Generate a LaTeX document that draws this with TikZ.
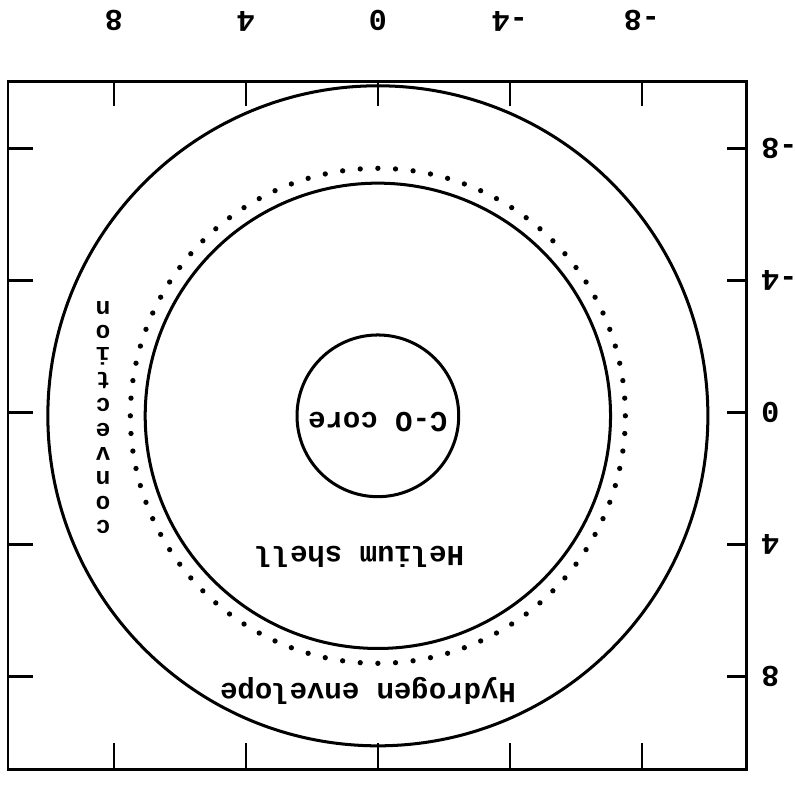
\documentclass[tikz,border=0pt]{standalone}
\usepackage{fontspec}
\setmonofont{Liberation Mono}
\usepackage{tikz}

\begin{document}
\begin{tikzpicture}[x=0.5cm, y=0.5cm, rotate=180, transform shape,
    ring/.style={line width=1.3pt},
    frame/.style={line width=1.2pt},
    axtick/.style={line width=1.1pt},
    lbl/.style={font=\ttfamily\bfseries\fontsize{12.5}{14}\selectfont, inner sep=0pt},
    num/.style={font=\ttfamily\bfseries\fontsize{13}{15}\selectfont, inner sep=0pt}]

\useasboundingbox (-12.64,-12.5) rectangle (11.45,11.4);

% frame with ticks
\draw [frame] (-11.18,-10.03) rectangle (11.21,10.82);
\foreach \v in {-8,-4,0,4,8} {
  \draw [axtick] (\v,-10.03) -- ++(0,0.75);
  \draw [axtick] (\v,10.82) -- ++(0,-0.8);
  \draw [axtick] (-11.18,\v) -- ++(0.6,0);
  \draw [axtick] (11.21,\v) -- ++(-0.75,0);
  \node [num, anchor=north] (bx\v) at (\v,-11.55) {\v};
  \node [num, anchor=east] (ly\v) at (-11.6,\v) {\v};
}

% shells
\begin{scope}[shift={(0,0.1)}]
  \draw [ring] (0,0) circle (10);
  \draw [ring] (0,0) circle (7.05);
  \draw [ring] (0,0) circle (2.45);
  \foreach \i in {1,...,88}
    \fill ({360/88*\i}:7.5) circle (0.08);
\end{scope}

\node [lbl] (core) at (0,0.3) {C-O core};
\node [lbl] (he) at (0.55,4.36) {Helium shell};
\node [lbl] (hyd) at (0.3,8.45) {Hydrogen envelope};
\foreach \ch [count=\k] in {c,o,n,v,e,c,t,i,o,n}
  \node [lbl, font=\ttfamily\bfseries\fontsize{10.5}{12}\selectfont] (cv\k) at (8.33,{3.48-0.74*(\k-1)}) {\ch};

\end{tikzpicture}
\end{document}
